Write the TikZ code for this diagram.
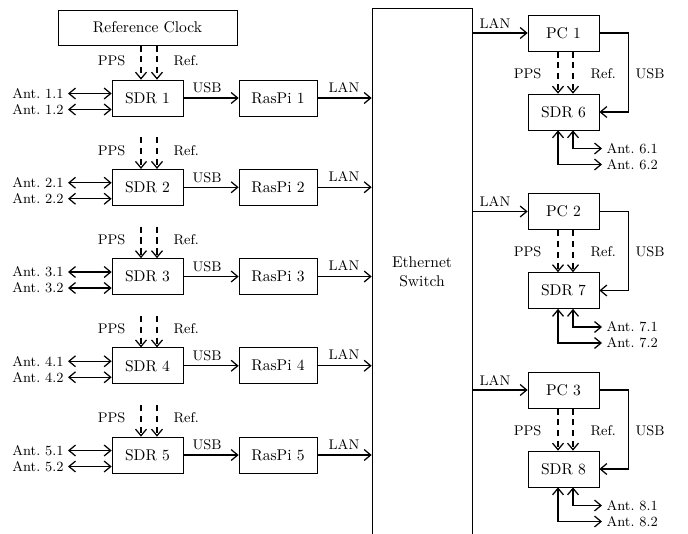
\documentclass[tikz,border=0pt]{standalone}
\usetikzlibrary{arrows.meta,calc}
\begin{document}
\begin{tikzpicture}[x=0.6423pt,y=-0.6423pt,line width=0.8pt,
  box/.style={draw, line width=0.45pt, inner sep=0pt, minimum width=45.6pt, minimum height=23.1pt},
  lbl/.style={font=\small, inner sep=2.5pt},
  tip/.style={-{Straight Barb[length=4.2pt,width=7pt]}},
  dtip/.style={{Straight Barb[length=4.2pt,width=7pt]}-{Straight Barb[length=4.2pt,width=7pt]}},
  dsh/.style={dash pattern=on 4pt off 3pt}]
\useasboundingbox (0,0) rectangle (688,533);
\clip (0,0) rectangle (688,533);

\node[box, minimum width=115pt, minimum height=22.5pt] (clk) at (147.5,27.5) {Reference Clock};
\node[box, minimum width=64.2pt, minimum height=339.1pt, align=center] (sw) at (422,272) {Ethernet\\Switch};

\foreach \k in {1,...,5} {
  \pgfmathsetmacro\yy{98+89.25*(\k-1)}
  \node[box] (sdr\k) at (147.5,\yy) {SDR \k};
  \node[box, minimum width=50.1pt] (pi\k) at (278,\yy) {RasPi \k};
  \draw[tip] (sdr\k.east) -- (pi\k.west);
  \node[lbl] (usb\k) at (207,\yy-10) {USB};
  \draw[tip] (pi\k.east) -- (pi\k.east -| sw.west);
  \node[lbl] (lan\k) at (344,\yy-11) {LAN};
  \node[lbl, anchor=east] (ant\k a) at (68,\yy-4.5) {Ant.\ \k.1};
  \node[lbl, anchor=east] (ant\k b) at (68,\yy+11.5) {Ant.\ \k.2};
  \draw[dtip] (ant\k a.east) -- (ant\k a.east -| sdr\k.west);
  \draw[dtip] (ant\k b.east) -- (ant\k b.east -| sdr\k.west);
  \node[lbl, anchor=east] (pps\k) at (130,\yy-37) {PPS};
  \node[lbl, anchor=west] (ref\k) at (169,\yy-37) {Ref.};
  \coordinate (src\k) at (147.5,\yy-50);
}
\coordinate (src1) at (clk.south);
\foreach \k in {1,...,5} {
  \draw[dsh,tip] ($(src\k)+(-6.5,0)$) -- ($(sdr\k.north)+(-6.5,0)$);
  \draw[dsh,tip] ($(src\k)+(9.5,0)$) -- ($(sdr\k.north)+(9.5,0)$);
}

\foreach \j in {1,2,3} {
  \pgfmathsetmacro\yp{33+178.5*(\j-1)}
  \pgfmathsetmacro\ys{\yp+79}
  \pgfmathtruncatemacro\n{\j+5}
  \node[box] (pc\j) at (563.5,\yp) {PC \j};
  \node[box] (sdr\n) at (563.5,\ys) {SDR \n};
  \draw[tip] (pc\j.west -| sw.east) -- (pc\j.west);
  \node[lbl] (lanr\j) at (495,\yp-10) {LAN};
  \draw[tip] (pc\j.east) -- ++(29,0) |- (sdr\n.east);
  \node[lbl] (usbr\j) at (650,\yp+40.5) {USB};
  \draw[dsh,tip] ($(pc\j.south)+(-5.5,0)$) -- ($(sdr\n.north)+(-5.5,0)$);
  \draw[dsh,tip] ($(pc\j.south)+(9.5,0)$) -- ($(sdr\n.north)+(9.5,0)$);
  \node[lbl, anchor=east] (ppsr\j) at (546,\yp+40.5) {PPS};
  \node[lbl, anchor=west] (refr\j) at (586,\yp+40.5) {Ref.};
  \node[lbl, anchor=west] (ant\n a) at (602,\ys+36.5) {Ant.\ \n.1};
  \node[lbl, anchor=west] (ant\n b) at (602,\ys+52.5) {Ant.\ \n.2};
  \draw[dtip] ($(sdr\n.south)+(9.5,0)$) |- (ant\n a.west);
  \draw[dtip] ($(sdr\n.south)+(-5.5,0)$) |- (ant\n b.west);
}
\end{tikzpicture}
\end{document}
